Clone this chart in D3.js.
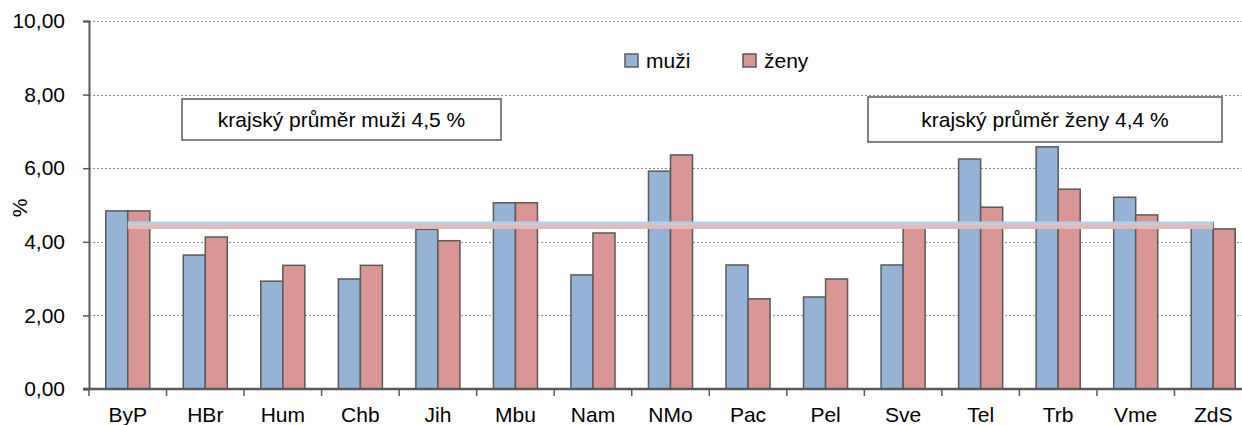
<!DOCTYPE html>
<html>
<head>
<meta charset="utf-8">
<script src="https://cdn.jsdelivr.net/npm/d3@7"></script>
<style>
  body { margin: 0; background: #fff; }
  svg { display: block; font-family: Arial, "Liberation Sans", sans-serif; }
</style>
</head>
<body>
<div id="chart"></div>
<script>
// data
const categories = ["ByP", "HBr", "Hum", "Chb", "Jih", "Mbu", "Nam", "NMo", "Pac", "Pel", "Sve", "Tel", "Trb", "Vme", "ZdS"];
const muzi = [4.84, 3.64, 2.93, 2.99, 4.34, 5.06, 3.10, 5.92, 3.37, 2.50, 3.37, 6.25, 6.58, 5.21, 4.52];
const zeny = [4.84, 4.13, 3.36, 3.36, 4.03, 5.06, 4.24, 6.36, 2.45, 2.99, 4.46, 4.94, 5.43, 4.73, 4.35];
const seriesNames = ["muži", "ženy"];
const avgMuzi = 4.5;
const avgZeny = 4.4;
const yTicks = [0, 2, 4, 6, 8, 10];

const width = 1242, height = 425;
const margin = {top: 21, left: 89, bottom: 36};
const plotRight = 1252; // plot runs a bit past the window edge
const fs = 21;

const colors = {"muži": "#95b3d7", "ženy": "#d99694"};
const avgColors = {"muži": "#b9cde5", "ženy": "#e6b9b8"};

const svg = d3.select("#chart").append("svg")
    .attr("width", width)
    .attr("height", height);

const x = d3.scaleBand()
    .domain(categories)
    .range([margin.left, plotRight])
    .padding(0);

const xInner = d3.scaleBand()
    .domain(seriesNames)
    .range([0, x.bandwidth()])
    .paddingInner(0)
    .paddingOuter(0.76);

const y = d3.scaleLinear()
    .domain([0, 10])
    .range([height - margin.bottom, margin.top]);

// gridlines
svg.append("g")
    .selectAll("line")
    .data(yTicks.filter(d => d > 0))
    .join("line")
    .attr("x1", margin.left)
    .attr("x2", plotRight)
    .attr("y1", d => Math.round(y(d)) + 0.5)
    .attr("y2", d => Math.round(y(d)) + 0.5)
    .attr("stroke", "#8c8c8c")
    .attr("stroke-width", 1)
    .attr("stroke-dasharray", "2,2");

// bars
const rows = categories.map((c, i) => ({cat: c, values: [
    {key: "muži", value: muzi[i]},
    {key: "ženy", value: zeny[i]}
]}));

svg.append("g")
    .selectAll("g")
    .data(rows)
    .join("g")
    .attr("transform", d => `translate(${x(d.cat)},0)`)
    .selectAll("rect")
    .data(d => d.values)
    .join("rect")
    .attr("x", d => xInner(d.key))
    .attr("width", xInner.bandwidth())
    .attr("y", d => y(d.value))
    .attr("height", d => y(0) - y(d.value))
    .attr("fill", d => colors[d.key])
    .attr("stroke", "#595959")
    .attr("stroke-width", 1.5);

// regional averages
const avgLine = d3.line()
    .x(d => x(d.cat) + x.bandwidth() / 2)
    .y(d => y(d.v));

[["muži", avgMuzi], ["ženy", avgZeny]].forEach(([k, v]) => {
    svg.append("path")
        .datum(categories.map(c => ({cat: c, v: v})))
        .attr("d", avgLine)
        .attr("fill", "none")
        .attr("stroke", avgColors[k])
        .attr("stroke-width", 4);
});

// y axis
const yAxis = svg.append("g")
    .attr("transform", `translate(${margin.left},0)`)
    .call(d3.axisLeft(y).tickValues(yTicks).tickSize(6).tickPadding(6)
        .tickFormat(d => d3.format(".2f")(d).replace(".", ",")));
yAxis.select(".domain").attr("stroke", "#595959").attr("stroke-width", 2);
yAxis.selectAll(".tick line").attr("stroke", "#595959").attr("stroke-width", 1.5);
yAxis.selectAll(".tick text")
    .attr("x", -24)
    .attr("font-size", fs)
    .attr("font-family", "Arial, 'Liberation Sans', sans-serif")
    .attr("fill", "#000");

// x axis: ticks on category boundaries
const xAxisG = svg.append("g");
xAxisG.append("line")
    .attr("x1", margin.left - 6)
    .attr("x2", plotRight)
    .attr("y1", y(0))
    .attr("y2", y(0))
    .attr("stroke", "#595959")
    .attr("stroke-width", 2.5);
xAxisG.selectAll("line.tick")
    .data(categories)
    .join("line")
    .attr("class", "tick")
    .attr("x1", d => x(d))
    .attr("x2", d => x(d))
    .attr("y1", y(0))
    .attr("y2", y(0) + 7)
    .attr("stroke", "#595959")
    .attr("stroke-width", 1.5);
xAxisG.selectAll("text")
    .data(categories)
    .join("text")
    .attr("x", d => x(d) + x.bandwidth() / 2)
    .attr("y", y(0) + 33)
    .attr("text-anchor", "middle")
    .attr("font-size", fs)
    .text(d => d);

// y title
svg.append("text")
    .attr("transform", "translate(27,208) rotate(-90)")
    .attr("text-anchor", "middle")
    .attr("font-size", fs)
    .text("%");

// legend
const legend = svg.append("g").attr("transform", "translate(625,54)");
const legX = [0, 118];
seriesNames.forEach((s, i) => {
    const g = legend.append("g").attr("transform", `translate(${legX[i]},0)`);
    g.append("rect")
        .attr("width", 13).attr("height", 13)
        .attr("fill", colors[s])
        .attr("stroke", "#595959")
        .attr("stroke-width", 1.5);
    g.append("text")
        .attr("x", 21).attr("y", 7)
        .attr("dy", "0.35em")
        .attr("font-size", fs)
        .text(s);
});

// annotation boxes
const notes = [
    {text: "krajský průměr muži 4,5 %", x: 182, y: 99, w: 319, h: 41},
    {text: "krajský průměr ženy 4,4 %", x: 868, y: 97, w: 354, h: 45}
];
notes.forEach(n => {
    svg.append("rect")
        .attr("x", n.x).attr("y", n.y)
        .attr("width", n.w).attr("height", n.h)
        .attr("fill", "#fff")
        .attr("stroke", "#595959")
        .attr("stroke-width", 1.5);
    svg.append("text")
        .attr("x", n.x + n.w / 2)
        .attr("y", n.y + n.h / 2)
        .attr("dy", "0.35em")
        .attr("text-anchor", "middle")
        .attr("font-size", fs)
        .text(n.text);
});
</script>
</body>
</html>
